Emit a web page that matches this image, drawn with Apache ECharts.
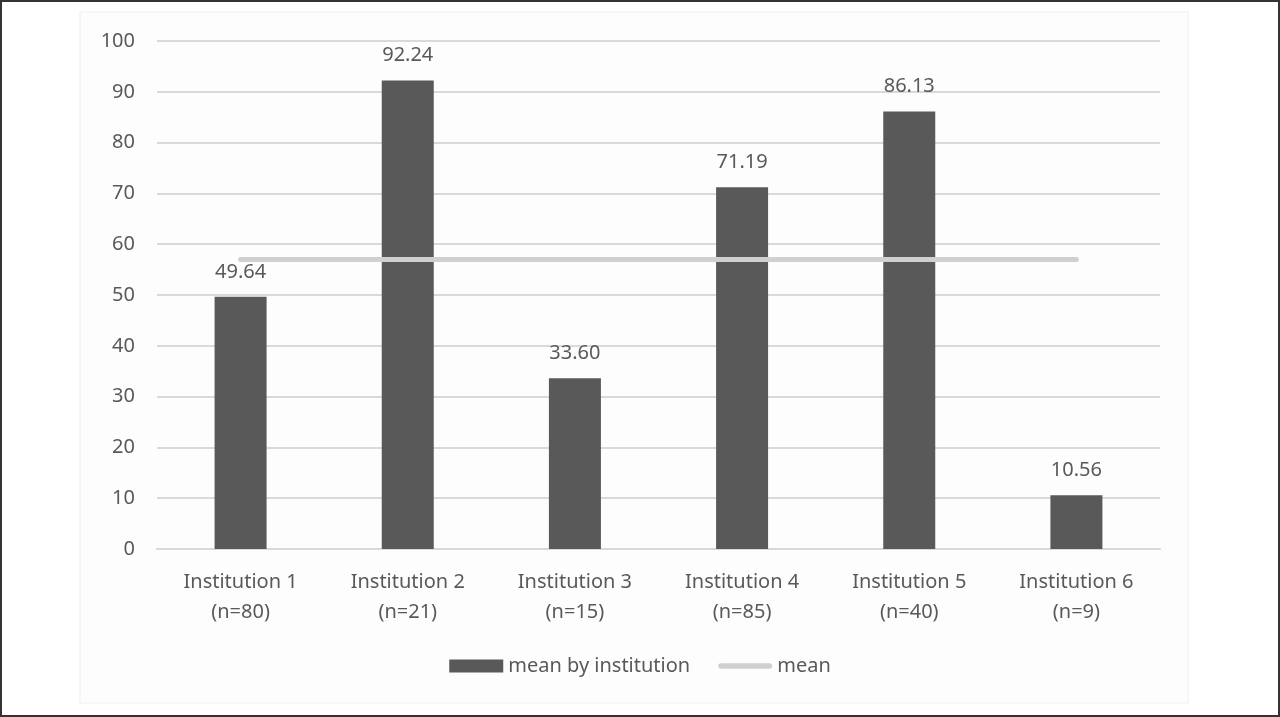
<!DOCTYPE html>
<html>
<head>
<meta charset="utf-8">
<script src="https://cdn.jsdelivr.net/npm/echarts@6/dist/echarts.min.js"></script>
<style>
html,body{margin:0;padding:0;background:#fff;}
#c{width:1280px;height:717px;}
</style>
</head>
<body>
<div id="c"></div>
<script>
const categories = ['Institution 1\n(n=80)','Institution 2\n(n=21)','Institution 3\n(n=15)','Institution 4\n(n=85)','Institution 5\n(n=40)','Institution 6\n(n=9)'];
const meanByInstitution = [49.64, 92.24, 33.60, 71.19, 86.13, 10.56];
const overallMean = [57.0, 57.0, 57.0, 57.0, 57.0, 57.0];
const yTicks = {min: 0, max: 100, interval: 10};

const FONT = 'Noto Sans';
const TXT = '#595959';
const chart = echarts.init(document.getElementById('c'), null, {renderer: 'canvas'});
chart.setOption({
  animation: false,
  backgroundColor: '#ffffff',
  textStyle: {fontFamily: FONT},
  graphic: [
    {type: 'rect', z: -10, silent: true, shape: {x: 80, y: 12, width: 1108, height: 691},
     style: {fill: '#fdfdfd', stroke: '#efefef', lineWidth: 1}},
    {type: 'rect', z: 100, silent: true, shape: {x: 1, y: 1, width: 1278, height: 715},
     style: {fill: 'none', stroke: '#333333', lineWidth: 2}}
  ],
  grid: {left: 157, right: 120, top: 41, bottom: 168, containLabel: false},
  legend: {
    top: 651, left: 'center',
    itemWidth: 54, itemHeight: 13, itemGap: 28,
    textStyle: {fontSize: 20, color: TXT, fontFamily: FONT},
    data: [
      {name: 'mean by institution', icon: 'rect'},
      {name: 'mean', icon: 'path://M3,0 L57,0 A3,3 0 0 1 57,6 L3,6 A3,3 0 0 1 3,0 Z', itemStyle: {color: '#d0d0d0'}}
    ]
  },
  xAxis: {
    type: 'category', data: categories,
    axisLine: {show: true, lineStyle: {color: '#d9d9d9', width: 2}},
    axisTick: {show: false},
    axisLabel: {color: TXT, fontSize: 20, lineHeight: 30, margin: 18, fontFamily: FONT, interval: 0}
  },
  yAxis: {
    type: 'value', min: yTicks.min, max: yTicks.max, interval: yTicks.interval,
    axisLine: {show: false}, axisTick: {show: false},
    axisLabel: {color: TXT, fontSize: 20, margin: 22, fontFamily: FONT},
    splitLine: {lineStyle: {color: '#d9d9d9', width: 2}}
  },
  series: [
    {
      name: 'mean by institution', type: 'bar', data: meanByInstitution,
      barWidth: 52,
      itemStyle: {color: '#595959'},
      label: {show: true, position: 'top', distance: 15, color: TXT, fontSize: 20, fontFamily: FONT,
              formatter: p => p.value.toFixed(2)}
    },
    {
      name: 'mean', type: 'line', data: overallMean, symbol: 'none', z: 5,
      lineStyle: {color: '#d0d0d0', width: 5, cap: 'round'},
      itemStyle: {color: '#d0d0d0'}
    }
  ]
});
</script>
</body>
</html>
